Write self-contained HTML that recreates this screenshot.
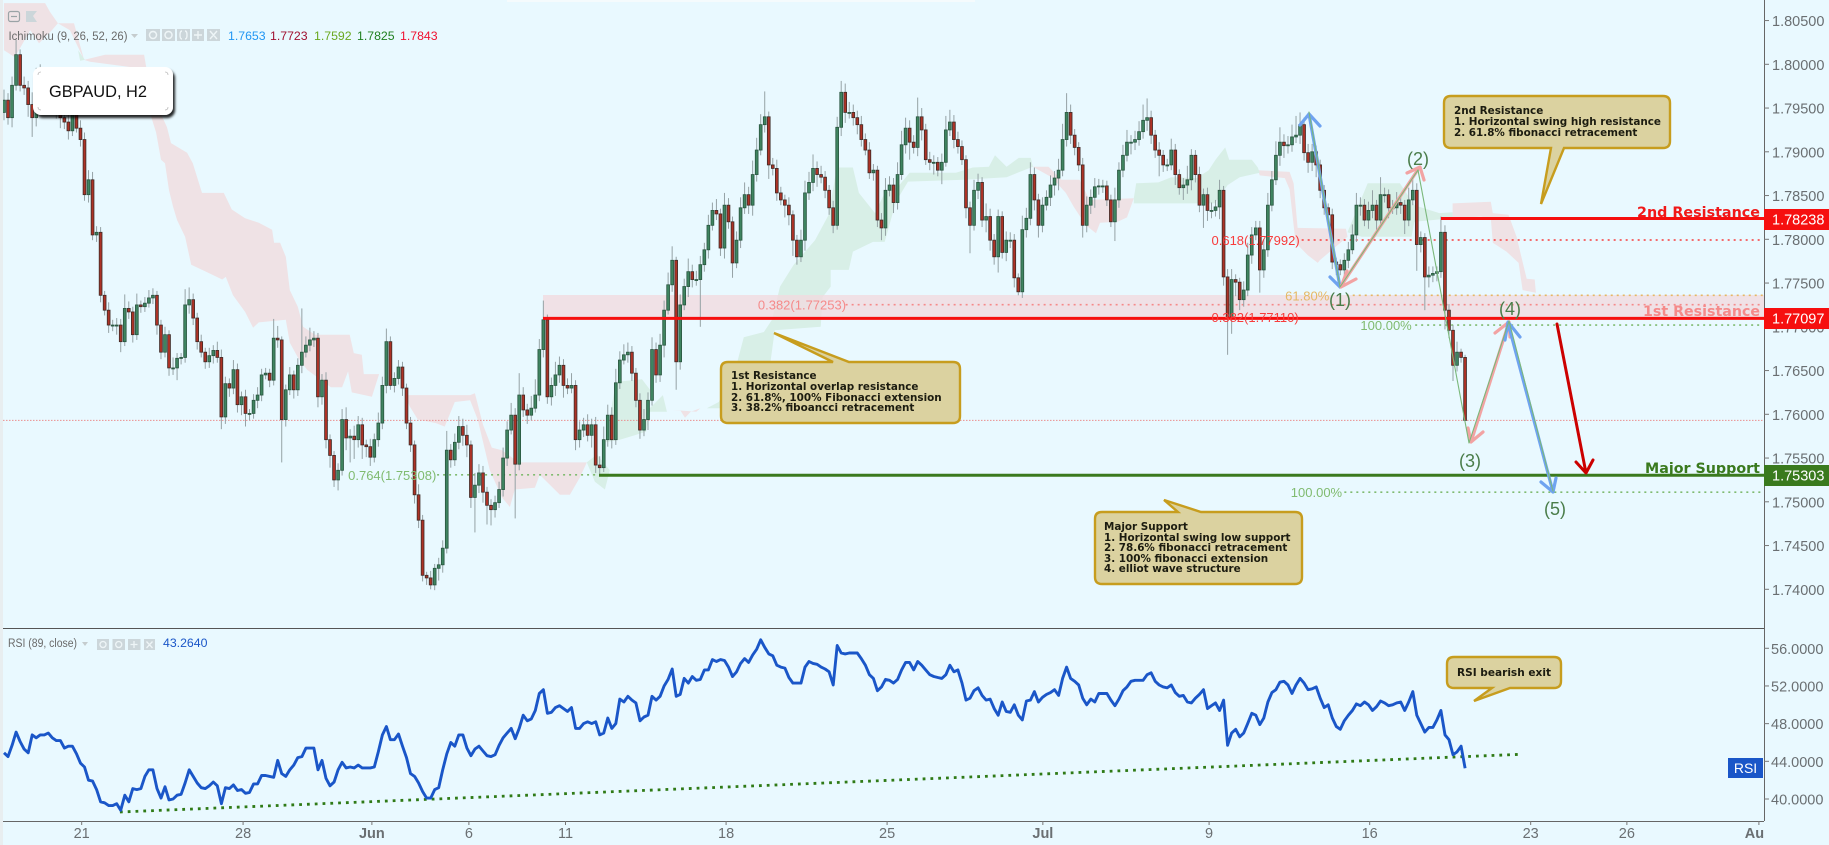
<!DOCTYPE html>
<html lang="en">
<head>
<meta charset="utf-8">
<title>GBPAUD H2 chart</title>
<style>
html,body{margin:0;padding:0;background:#e9f9ff;width:1829px;height:845px;overflow:hidden}
svg{display:block;font-family:"Liberation Sans",sans-serif}
.ax{font-size:14.5px;fill:#6a6f72}
.fib{font-size:13px}
.note{font-family:"DejaVu Sans",sans-serif;font-size:10.4px;font-weight:bold;fill:#1c1c10}
.wave{font-size:18px;fill:#4a7d4a;text-anchor:middle}
.zone{font-family:"DejaVu Sans",sans-serif;font-size:14px;font-weight:bold}
.btn{fill:#ccd6da}
</style>
</head>
<body>
<svg id="chart" xmlns="http://www.w3.org/2000/svg" width="1829" height="845" viewBox="0 0 1829 845">
<defs>
<clipPath id="plotClip"><rect x="3" y="0" width="1761" height="628"/></clipPath>
<clipPath id="rsiClip"><rect x="3" y="629" width="1761" height="192"/></clipPath>
<clipPath id="axisClip"><rect x="0" y="822" width="1764" height="23"/></clipPath>
<filter id="labelShadow" x="-10%" y="-20%" width="125%" height="150%"><feDropShadow dx="2" dy="3" stdDeviation="1.2" flood-color="#000" flood-opacity=".85"/></filter>
</defs>
<rect x="0" y="0" width="1829" height="845" fill="#e9f9ff"/>
<rect x="0" y="0" width="3" height="845" fill="#e8eef0"/>
<rect x="507" y="0" width="468" height="2" fill="#f5fbfd"/>
<g id="cloudLayer" clip-path="url(#plotClip)"></g>
<rect x="543" y="295" width="1221" height="24" fill="#f1dbe0" opacity=".8"/>
<g id="gridLayer" clip-path="url(#plotClip)"></g>
<g id="candleLayer" clip-path="url(#plotClip)"></g>

<g fill="none" stroke-linecap="round" stroke-linejoin="round">
<path d="M1309,114L1340,287M1300,125L1309,114L1320,126M1330,277L1340,287" stroke="#6fa3f0" stroke-width="3.2"/>
<path d="M1341,286L1419,168M1407,173L1420,167L1424,180M1356,279L1341,287L1347,271" stroke="#f2a3a3" stroke-width="3.2"/>
<path d="M1471,442L1509,322M1468,428L1471,442L1483,432M1495,333L1509,322L1510,337" stroke="#f2a3a3" stroke-width="3.2"/>
<path d="M1508,323L1553,492M1505,340L1508,322L1520,337M1541,482L1553,492L1556,478" stroke="#6fa3f0" stroke-width="3.2"/>
<path d="M1309,112L1340,287L1418,170L1469,443L1509,321L1553,491" stroke="#7ab87a" stroke-width="1.1"/>
<path d="M1557,324L1586,473M1576,462L1586,473L1593,460" stroke="#cc0000" stroke-width="3"/>
</g>

<g>
<text class="wave" x="1340" y="306">(1)</text>
<text class="wave" x="1418" y="165">(2)</text>
<text class="wave" x="1470" y="467">(3)</text>
<text class="wave" x="1510" y="315">(4)</text>
<text class="wave" x="1555" y="515">(5)</text>
</g>

<g>
<text class="zone" x="1637" y="217" fill="#f01818" textLength="123" lengthAdjust="spacingAndGlyphs">2nd Resistance</text>
<text class="zone" x="1643" y="316" fill="#f58a8a" textLength="117" lengthAdjust="spacingAndGlyphs">1st Resistance</text>
<text class="zone" x="1645" y="473" fill="#3a7a1e" textLength="115" lengthAdjust="spacingAndGlyphs">Major Support</text>
</g>

<g>
<path d="M728,362H833L774,333L849,362H953Q960,362 960,369V416Q960,423 953,423H728Q721,423 721,416V369Q721,362 728,362Z" fill="#dbd2a0" stroke="#c79d1e" stroke-width="2.4"/>
<text class="note" x="731" y="379">1st Resistance</text>
<text class="note" x="731" y="390">1. Horizontal overlap resistance</text>
<text class="note" x="731" y="401">2. 61.8%, 100% Fibonacci extension</text>
<text class="note" x="731" y="411">3. 38.2% fiboancci retracement</text>
</g>
<g>
<path d="M1451,96H1663Q1670,96 1670,103V141Q1670,148 1663,148H1564L1541,204L1551,148H1451Q1444,148 1444,141V103Q1444,96 1451,96Z" fill="#dbd2a0" stroke="#c79d1e" stroke-width="2.4"/>
<text class="note" x="1454" y="114">2nd Resistance</text>
<text class="note" x="1454" y="125">1. Horizontal swing high resistance</text>
<text class="note" x="1454" y="136">2. 61.8% fibonacci retracement</text>
</g>
<g>
<path d="M1102,512H1178L1164,500L1201,512H1295Q1302,512 1302,519V577Q1302,584 1295,584H1102Q1095,584 1095,577V519Q1095,512 1102,512Z" fill="#dbd2a0" stroke="#c79d1e" stroke-width="2.4"/>
<text class="note" x="1104" y="530">Major Support</text>
<text class="note" x="1104" y="541">1. Horizontal swing low support</text>
<text class="note" x="1104" y="551">2. 78.6% fibonacci retracement</text>
<text class="note" x="1104" y="562">3. 100% fibonacci extension</text>
<text class="note" x="1104" y="572">4. elliot wave structure</text>
</g>

<g id="rsiLayer" clip-path="url(#rsiClip)"></g>
<g>
<path d="M1454,657H1554Q1561,657 1561,664V681Q1561,688 1554,688H1510L1474,701L1492,688H1454Q1447,688 1447,681V664Q1447,657 1454,657Z" fill="#dbd2a0" stroke="#c79d1e" stroke-width="2.4"/>
<text class="note" x="1504" y="676" text-anchor="middle" textLength="94" lengthAdjust="spacingAndGlyphs">RSI bearish exit</text>
</g>

<line x1="3" y1="628.5" x2="1764" y2="628.5" stroke="#555" stroke-width="1"/>
<line x1="3" y1="821.5" x2="1764" y2="821.5" stroke="#666" stroke-width="1"/>
<line x1="1764.5" y1="0" x2="1764.5" y2="821" stroke="#666" stroke-width="1"/>
<g id="axisLayer"></g>

<g>
<rect x="1764" y="209" width="65" height="21" fill="#f60f0f"/>
<text x="1772" y="224.5" fill="#fff" font-size="14.5">1.78238</text>
</g>
<g>
<rect x="1764" y="308" width="65" height="21" fill="#f60f0f"/>
<text x="1772" y="323.5" fill="#fff" font-size="14.5">1.77097</text>
</g>
<g>
<rect x="1764" y="465" width="65" height="21" fill="#3a7a1e"/>
<text x="1772" y="480.5" fill="#fff" font-size="14.5">1.75303</text>
</g>
<g>
<rect x="1728" y="758" width="35" height="20" fill="#1a56c8"/>
<text x="1745.5" y="773" fill="#fff" font-size="14" text-anchor="middle">RSI</text>
</g>

<g>
<rect x="33" y="67" width="140" height="48" rx="8" fill="#fff" filter="url(#labelShadow)"/>
<path d="M38,75Q38,72 41,72M165,72Q168,72 168,75M168,107Q168,110 165,110M41,110Q38,110 38,107" fill="none" stroke="#bbb" stroke-width=".8"/>
<text x="49" y="97" font-size="17" fill="#111" textLength="98" lengthAdjust="spacingAndGlyphs">GBPAUD, H2</text>
</g>

<g>
<rect x="8.5" y="11.5" width="11" height="10" rx="2" fill="none" stroke="#9aa3a6" stroke-width="1.2"/>
<line x1="11" y1="16.5" x2="17" y2="16.5" stroke="#9aa3a6" stroke-width="1.2"/>
<path d="M26,11H37L33,16L37,22H26Z" fill="#ccd6da"/>
<text x="8.5" y="40" font-size="12.3" fill="#6a6a6a" textLength="119" lengthAdjust="spacingAndGlyphs">Ichimoku (9, 26, 52, 26)</text>
<path d="M131,34H138L134.5,38Z" fill="#c5ccce"/>
<rect class="btn" x="146" y="29" width="14" height="12"/>
<rect class="btn" x="162" y="29" width="13" height="12"/>
<rect class="btn" x="177" y="29" width="13" height="12"/>
<rect class="btn" x="192" y="29" width="12" height="12"/>
<rect class="btn" x="207" y="29" width="13" height="12"/>
<path d="M153,31.5a3.5,3.5 0 1 0 .01,0M168.5,31.5a3.5,3.5 0 1 0 .01,0M198,31V39M194,35H202M210,31L217,39M217,31L210,39M182,31Q180,31 180,35Q180,39 182,39M185,31Q187,31 187,35Q187,39 185,39" fill="none" stroke="#eef5f7" stroke-width="1.4"/>
<text x="228" y="40" font-size="12.3" fill="#2196f3">1.7653</text>
<text x="270" y="40" font-size="12.3" fill="#a01030">1.7723</text>
<text x="314" y="40" font-size="12.3" fill="#6aa820">1.7592</text>
<text x="357" y="40" font-size="12.3" fill="#208020">1.7825</text>
<text x="400" y="40" font-size="12.3" fill="#f01030">1.7843</text>
</g>

<g>
<text x="8" y="647" font-size="12.3" fill="#6a6a6a" textLength="69" lengthAdjust="spacingAndGlyphs">RSI (89, close)</text>
<path d="M82,642H88L85,646Z" fill="#c5ccce"/>
<rect class="btn" x="97" y="639" width="12" height="11"/>
<rect class="btn" x="112.5" y="639" width="12.5" height="11"/>
<rect class="btn" x="128" y="639" width="12.5" height="11"/>
<rect class="btn" x="144" y="639" width="11" height="11"/>
<path d="M103,641.5a3,3 0 1 0 .01,0M118.7,641.5a3,3 0 1 0 .01,0M134,641V648M130.5,644.5H137.5M146.5,641.5L152.5,648M152.5,641.5L146.5,648" fill="none" stroke="#eef5f7" stroke-width="1.3"/>
<text x="163" y="647" font-size="12.3" fill="#1a56c8">43.2640</text>
</g>
</svg>

<script>
// ---- candle data (one bar per 3 hours of trading) ----
const closes=[
1.7959,1.7939,1.7976,1.8011,1.7976,1.7973,1.7954,1.7939,1.7988,1.7976,
1.7971,1.7965,1.7954,1.7945,1.7939,1.7934,1.7924,1.7944,1.7927,1.7914,
1.7851,1.7868,1.7805,1.7808,1.7736,1.7719,1.7702,1.7702,1.7702,1.7683,
1.7721,1.7717,1.7691,1.7725,1.7723,1.7727,1.7733,1.7736,1.7702,1.7671,
1.7691,1.7653,1.7653,1.7664,1.7665,1.7725,1.7731,1.7710,1.7683,1.7671,
1.7660,1.7667,1.7673,1.7665,1.7597,1.7635,1.7630,1.7651,1.7611,1.7620,
1.7601,1.7601,1.7616,1.7622,1.7645,1.7647,1.7639,1.7687,1.7685,1.7594,
1.7628,1.7645,1.7628,1.7656,1.7671,1.7679,1.7685,1.7687,1.7620,1.7639,
1.7571,1.7553,1.7525,1.7536,1.7594,1.7573,1.7575,1.7571,1.7588,1.7565,
1.7563,1.7551,1.7571,1.7590,1.7633,1.7683,1.7633,1.7641,1.7654,1.7630,
1.7590,1.7565,1.7508,1.7479,1.7416,1.7413,1.7405,1.7424,1.7428,1.7447,
1.7559,1.7548,1.7568,1.7586,1.7576,1.7565,1.7505,1.7519,1.7533,1.7511,
1.7496,1.7491,1.7499,1.7514,1.7550,1.7582,1.7599,1.7543,1.7622,1.7605,
1.7599,1.7607,1.7622,1.7674,1.7708,1.7620,1.7633,1.7645,1.7656,1.7633,
1.7630,1.7633,1.7571,1.7582,1.7588,1.7576,1.7588,1.7542,1.7539,1.7571,
1.7599,1.7571,1.7636,1.7662,1.7668,1.7671,1.7647,1.7616,1.7582,1.7594,
1.7616,1.7674,1.7645,1.7679,1.7719,1.7748,1.7776,1.7660,1.7725,1.7746,
1.7763,1.7754,1.7754,1.7771,1.7788,1.7816,1.7833,1.7829,1.7790,1.7839,
1.7820,1.7773,1.7799,1.7836,1.7851,1.7839,1.7874,1.7902,1.7931,1.7940,
1.7885,1.7881,1.7853,1.7845,1.7839,1.7828,1.7799,1.7780,1.7799,1.7853,
1.7865,1.7881,1.7874,1.7871,1.7856,1.7836,1.7816,1.7928,1.7968,1.7945,
1.7945,1.7939,1.7931,1.7914,1.7902,1.7876,1.7879,1.7822,1.7813,1.7856,
1.7862,1.7842,1.7874,1.7908,1.7927,1.7911,1.7905,1.7940,1.7925,1.7891,
1.7888,1.7888,1.7879,1.7888,1.7925,1.7934,1.7914,1.7906,1.7891,1.7836,
1.7816,1.7856,1.7865,1.7822,1.7826,1.7799,1.7780,1.7826,1.7785,1.7799,
1.7799,1.7756,1.7740,1.7811,1.7824,1.7874,1.7845,1.7816,1.7839,1.7848,
1.7862,1.7870,1.7879,1.7914,1.7945,1.7919,1.7905,1.7885,1.7816,1.7839,
1.7848,1.7860,1.7861,1.7861,1.7845,1.7820,1.7845,1.7879,1.7896,1.7911,
1.7911,1.7914,1.7923,1.7936,1.7939,1.7919,1.7902,1.7896,1.7885,1.7885,
1.7902,1.7874,1.7859,1.7862,1.7868,1.7896,1.7874,1.7839,1.7851,1.7833,
1.7833,1.7837,1.7856,1.7757,1.7710,1.7754,1.7751,1.7731,1.7742,1.7782,
1.7805,1.7813,1.7765,1.7788,1.7839,1.7868,1.7896,1.7911,1.7907,1.7908,
1.7917,1.7919,1.7931,1.7899,1.7888,1.7900,1.7885,1.7856,1.7836,1.7828,
1.7774,1.7771,1.7765,1.7776,1.7788,1.7805,1.7839,1.7839,1.7822,1.7833,
1.7839,1.7822,1.7851,1.7851,1.7836,1.7836,1.7842,1.7839,1.7822,1.7845,
1.7856,1.7794,1.7802,1.7757,1.7759,1.7761,1.7763,1.7808,1.7719,1.7696,
1.7656,1.7671,1.7665,1.7593];
const firstOpen=1.7945;
const upperWickPips=[
12,8,10,17,6,10,8,14,8,12,
8,6,9,8,6,8,9,12,7,9,
8,11,9,7,6,5,9,6,8,7,
16,8,6,13,5,7,9,8,5,6,
9,5,12,6,5,18,14,7,6,8,
5,9,6,10,9,8,6,11,7,6,
8,5,7,9,7,6,5,22,14,4,
6,9,5,8,50,10,14,8,6,7,
9,6,5,8,12,14,8,12,10,8,
6,9,7,12,10,15,6,7,8,6,
5,7,5,12,6,4,8,5,8,9,
22,7,10,12,9,12,5,14,10,8,
6,7,8,9,12,10,14,8,25,9,
7,14,18,12,22,6,9,15,10,7,
8,14,6,10,8,12,7,9,10,15,
12,9,16,10,12,11,7,6,8,12,
9,14,8,13,11,14,16,4,12,9,
15,8,10,10,8,12,9,13,6,14,
8,6,10,12,14,9,16,14,12,29,
6,8,10,7,6,9,5,6,12,14,
12,16,8,10,7,6,8,12,13,10,
12,9,8,10,7,9,7,5,8,14,
10,8,14,16,12,9,8,22,10,7,
9,8,6,10,16,14,8,9,7,5,
7,12,10,6,15,9,7,8,6,10,
9,7,5,16,12,14,8,7,9,8,
11,8,13,18,22,9,7,6,8,10,
9,10,8,7,6,6,14,9,12,14,
8,10,12,18,22,8,6,9,6,7,
13,7,6,8,16,7,6,9,7,8,
9,8,12,5,9,12,6,5,10,14,
9,8,8,12,14,10,16,17,9,10,
14,22,14,8,10,9,7,6,6,5,
7,5,6,8,9,12,14,9,7,10,
17,6,20,8,6,9,12,9,6,14,
16,8,7,5,10,8,6,18,8,7,
6,12,4,3];
const lowerWickPips=[
9,8,11,6,7,8,14,22,10,7,
8,6,9,7,12,8,10,6,5,8,
7,9,6,8,8,6,9,7,11,12,
5,8,9,6,7,6,5,7,11,8,
6,9,8,14,7,6,10,8,9,6,
8,7,9,6,14,8,10,7,9,12,
15,8,6,9,7,5,8,6,9,49,
8,6,10,7,9,6,7,8,12,9,
10,14,8,12,6,14,28,22,9,16,
12,10,6,8,7,9,5,8,7,9,
7,8,10,9,7,8,5,6,14,9,
6,9,7,8,12,14,12,40,9,12,
22,18,9,6,8,9,5,62,7,8,
10,6,5,7,9,8,10,12,9,14,
7,6,12,9,8,7,14,9,7,5,
8,10,6,7,5,9,9,8,10,7,
12,6,9,8,14,5,8,32,9,6,
12,9,7,54,8,10,6,7,9,12,
8,17,6,9,7,10,12,8,6,9,
16,8,9,6,14,12,18,9,6,12,
8,10,14,7,9,8,9,5,10,12,
7,9,11,8,6,7,9,8,14,9,
7,12,8,6,10,20,7,10,12,6,
9,14,7,16,5,7,10,8,6,12,
32,6,10,8,14,12,9,18,7,10,
9,11,4,7,9,8,12,14,8,6,
10,12,14,7,8,10,9,7,14,8,
10,12,9,8,7,6,22,9,8,7,
14,9,7,8,12,10,9,24,8,7,
6,12,8,14,10,12,9,8,26,12,
9,7,14,10,42,18,16,12,8,7,
10,6,26,9,8,7,6,12,14,9,
8,7,10,9,12,10,14,9,8,7,
8,12,6,7,9,5,8,12,7,10,
9,14,6,9,12,7,8,10,16,7,
6,30,9,38,12,8,9,7,22,9,
18,7,6,0];
// ---- RSI values, same bars as the candles ----
const rsiValues=[
44.9,44.5,45.7,47.1,46.1,45.3,44.9,46.8,46.5,46.8,46.8,47.0,46.5,46.2,46.2,45.4,45.6,45.6,44.8,43.8,
43.4,42.0,41.9,41.0,39.7,39.6,39.3,39.3,39.5,38.8,40.4,39.7,41.1,41.0,41.1,42.4,43.1,43.1,41.1,40.1,
41.3,39.9,40.0,40.4,40.5,41.7,43.1,42.4,41.7,41.2,41.1,41.4,41.8,41.4,39.5,41.2,41.1,41.5,40.9,41.0,
40.6,40.7,41.6,41.6,42.5,42.5,42.4,42.3,44.1,42.7,42.4,43.1,43.6,44.4,44.5,45.4,45.4,45.4,43.1,44.1,
42.2,41.4,41.8,43.1,43.9,43.3,43.4,43.3,43.6,43.3,43.3,43.3,43.4,45.0,46.8,47.7,46.3,46.3,46.9,45.6,
44.4,42.7,42.4,41.7,40.8,40.1,40.1,41.0,41.2,43.1,44.8,46.0,45.6,46.8,46.8,45.4,44.6,45.3,45.6,45.1,
44.6,44.5,44.7,45.7,46.5,47.0,47.5,46.4,47.5,48.9,48.3,48.5,49.4,51.2,51.6,49.1,49.2,49.7,49.9,49.6,
49.3,49.7,47.5,47.5,48.0,48.2,48.0,48.2,46.8,47.0,48.6,47.5,48.0,50.6,50.3,50.9,50.5,50.2,48.3,48.7,
48.9,50.9,50.5,50.9,52.0,52.7,53.8,50.9,51.1,52.8,52.3,53.0,52.6,52.7,
53.7,53.7,54.8,54.6,54.8,54.7,54.0,53.0,53.5,54.4,54.9,54.5,55.3,55.9,56.9,56.1,55.4,55.2,54.2,54.0,
53.9,52.9,52.3,52.3,52.3,54.0,54.6,54.4,54.3,54.0,53.8,53.5,52.1,56.3,55.5,55.4,55.5,55.5,55.5,54.9,
54.2,53.2,52.8,51.5,51.9,52.7,52.6,52.3,52.7,53.7,54.5,54.5,53.7,54.6,54.2,53.7,53.2,53.0,52.9,52.8,
53.2,54.2,53.5,53.7,52.3,50.5,50.7,51.5,51.8,51.0,50.5,50.6,49.6,48.9,50.3,49.3,49.2,50.0,48.9,48.4,
50.4,50.5,51.4,50.3,50.8,51.1,51.3,51.6,51.0,52.8,54.0,52.8,52.5,52.1,50.7,50.0,50.6,50.3,51.2,51.2,
51.2,50.5,49.9,50.6,51.5,51.9,52.5,52.6,52.6,52.6,53.2,53.4,52.5,52.1,51.9,51.8,52.1,51.3,50.9,51.0,
50.3,50.2,50.7,51.1,51.6,49.6,49.9,50.2,49.4,50.5,45.7,47.0,47.4,46.6,47.0,48.0,49.1,48.9,47.9,48.6,
50.3,51.3,51.6,52.4,52.5,52.1,51.2,52.1,52.8,52.3,51.6,51.7,51.9,50.7,49.7,50.0,48.6,47.7,47.4,48.3,
48.9,49.4,50.1,49.9,50.3,50.0,49.4,49.8,50.4,50.2,49.9,50.0,50.2,50.3,49.4,50.3,51.4,48.9,48.0,47.1,
47.6,47.6,48.4,49.4,46.8,46.3,44.7,45.0,45.6,43.26];
const rsiTrendBars=[28.8,377.1];
const rsiTrendValues=[38.62,44.75];
// ---- axis ticks ----
const priceTicks=[1.805,1.80,1.795,1.79,1.785,1.78,1.775,1.77,1.765,1.76,1.755,1.75,1.745,1.74];
const rsiTicks=[56,52,48,44,40];
const timeTickBars=[19.3,59.4,91.4,115.5,139.5,179.4,219.4,258.1,299.4,339.3,379.3,403.2,436];
const timeTickLabels=['21','28','Jun','6','11','18','25','Jul','9','16','23','26','Aug'];
// ---- horizontal levels ----
const lastPrice=1.7593;
const firstResistancePrice=1.77097;
const secondResistancePrice=1.78238;
const majorSupportPrice=1.75303;
const fibPrices=[1.77992,1.77253,1.7736,1.7702,1.7511,1.75308,1.7711];
const fibStartBars=[322.4,209.1,333.6,350.6,333,107.6,322.4];
const fibEndBars=[437,437,437,437,437,148,437];
const fibLabels=['0.618(1.77992)','0.382(1.77253)','61.80%','100.00%','100.00%','0.764(1.75308)','0.382(1.77110)'];
const fibLabelBars=[300,187.3,318.3,337,319.7,85.5,300];
const fibColors=['#f83c3c','#f58a8a','#e5b865','#80bb70','#80bb70','#80bb70','#f83c3c'];
// ---- ichimoku cloud outlines: [bar, price] ----
const redCloudA=[[0,1.8070],[10.2,1.8070],[11.4,1.8060],[13.4,1.8047],[17.4,1.8047],[19.9,1.8005],[25.1,1.8011],[34.8,1.8011],[36.3,1.7971],[40.5,1.7928],[41.5,1.7910],[45.5,1.7899],[46.9,1.7887],[49.2,1.7853],[54.6,1.7853],[56.6,1.7834],[59.9,1.7824],[63.3,1.7819],[66.6,1.7811],[67.1,1.7796],[68.6,1.7796],[70,1.7780],[71,1.7742],[73,1.7723],[74.3,1.7700],[77.3,1.7691],[85.9,1.7691],[86.9,1.7670],[88.9,1.7668],[89.4,1.7646],[93.2,1.7646],[91.4,1.7620],[86.4,1.7625],[85.5,1.7649],[84,1.7631],[81.2,1.7631],[75.3,1.7651],[73,1.7665],[71,1.7682],[70,1.7708],[63.3,1.7705],[61.9,1.7699],[59.9,1.7717],[56.9,1.7736],[55.1,1.7757],[54.2,1.7754],[50.2,1.7763],[46.5,1.7771],[45,1.7803],[43,1.7822],[42,1.7837],[41,1.7856],[40,1.7887],[39,1.7891],[37.8,1.7922],[36.3,1.7944],[35.8,1.7994],[21.4,1.8003],[19.9,1.8005],[16.4,1.8039],[13.4,1.8047],[11.9,1.8039],[8.7,1.8024],[6.5,1.8039],[2.7,1.8008],[0,1.8016]];
const redCloudB=[[99.6,1.7622],[115.8,1.7622],[117,1.7624],[119,1.7588],[121.2,1.7562],[123.7,1.7559],[127.9,1.7545],[144.8,1.7545],[143.1,1.7528],[140.6,1.7508],[138.1,1.7508],[133.1,1.7531],[131.9,1.7516],[126.9,1.7514],[125.7,1.7494],[123.7,1.7505],[120.7,1.7536],[117.7,1.7594],[115.8,1.7616],[112,1.7614],[109.5,1.7586],[107.3,1.7590],[102.8,1.7594],[100.8,1.7609]];
const redCloudC=[[255.6,1.7883],[259.5,1.7883],[262.7,1.7868],[267.2,1.7868],[269.7,1.7845],[280.7,1.7847],[279,1.7825],[276.7,1.7820],[272.3,1.7819],[271.3,1.7807],[268.8,1.7816],[265.8,1.7837],[263.8,1.7853],[260.3,1.7871]];
const redCloudD=[[311.5,1.7879],[319.4,1.7877],[320.4,1.7864],[321.4,1.7813],[333.4,1.7812],[333.8,1.7803],[326.9,1.7776],[326.4,1.7773],[323.9,1.7782],[320.9,1.7796],[319.4,1.7857],[318.2,1.7870],[312,1.7873]];
const redCloudE=[[359.9,1.7841],[369.4,1.7843],[369.9,1.7830],[373.8,1.7828],[375.8,1.7803],[377.3,1.7774],[378.3,1.7755],[380.3,1.7754],[380.6,1.7739],[377.3,1.7742],[376.3,1.7773],[373.3,1.7786],[369.9,1.7796],[369.4,1.7824],[366.9,1.7826],[359.9,1.7824]];
const redCloudF=[[166,1.7605],[172,1.7603],[173,1.7607],[170.6,1.7603],[169.2,1.7596],[168.1,1.7604]];
const greenCloudA=[[18.4,1.8016],[20.1,1.8005],[18.9,1.8004]];
const greenCloudB=[[144.8,1.7545],[147.3,1.7554],[150.5,1.7536],[149.3,1.7514],[146.8,1.7523]];
const greenCloudC=[[152,1.7637],[158.5,1.7640],[160.5,1.7628],[160,1.7605],[163.7,1.7622],[164.7,1.7603],[160.5,1.7603],[159.5,1.7580],[153,1.7571],[149.5,1.7568]];
const greenCloudD=[[174.6,1.7607],[177.6,1.7614],[181.8,1.7653],[183.8,1.7688],[188.8,1.7694],[190.8,1.7708],[192.8,1.7746],[196.2,1.7771],[201.5,1.7799],[204.9,1.7828],[206.9,1.7882],[210.9,1.7882],[212.4,1.7853],[216.4,1.7830],[218.8,1.7853],[222.1,1.7860],[225,1.7876],[236.5,1.7876],[240.7,1.7882],[244.7,1.7883],[246.2,1.7896],[249.1,1.7883],[252.1,1.7893],[255.1,1.7893],[255.6,1.7883],[249.1,1.7871],[238.5,1.7868],[224.6,1.7866],[221.6,1.7843],[218.8,1.7797],[215.9,1.7797],[210.9,1.7786],[209.9,1.7765],[205.4,1.7765],[205.4,1.7746],[203.4,1.7734],[202.9,1.7700],[191.5,1.7696],[190.3,1.7656],[182.8,1.7660],[177.9,1.7607]];
const greenCloudE=[[280.7,1.7847],[281.3,1.7864],[286.8,1.7865],[290,1.7871],[296.3,1.7870],[299.3,1.7879],[301,1.7891],[303.4,1.7905],[304.4,1.7891],[310,1.7891],[311.5,1.7882],[312,1.7876],[307,1.7871],[304,1.7862],[300.8,1.7841],[296.3,1.7841],[280.7,1.7841]];
const greenCloudF=[[333.8,1.7808],[338.8,1.7864],[346.8,1.7864],[350.4,1.7839],[356.6,1.7830],[359.9,1.7831],[359.9,1.7824],[350.4,1.7820],[349.7,1.7803],[337.3,1.7803]];
const redClouds=[redCloudA,redCloudB,redCloudC,redCloudD,redCloudE,redCloudF];
const greenClouds=[greenCloudA,greenCloudB,greenCloudC,greenCloudD,greenCloudE,greenCloudF];

// ---- scales ----
function xScale(bar){return 4+bar*4.025;}
function yScale(price){return 414.3-(price-1.76)*8750;}
function rsiScale(value){return 799-(value-40)*9.42;}

const NS='http://www.w3.org/2000/svg';
function mk(tag,attrs,parent){
  const el=document.createElementNS(NS,tag);
  for(const k in attrs){el.setAttribute(k,attrs[k]);}
  parent.appendChild(el);
  return el;
}
const cloudLayer=document.getElementById('cloudLayer');
const gridLayer=document.getElementById('gridLayer');
const candleLayer=document.getElementById('candleLayer');
const rsiLayer=document.getElementById('rsiLayer');
const axisLayer=document.getElementById('axisLayer');

function pointsOf(list){
  return list.map(function(p){return xScale(p[0]).toFixed(1)+','+yScale(p[1]).toFixed(1);}).join(' ');
}
redClouds.forEach(function(list){
  const el=mk('polygon',{points:pointsOf(list),fill:'#efe2e5'},cloudLayer);
  
  
});
greenClouds.forEach(function(list){
  const el=mk('polygon',{points:pointsOf(list),fill:'#d8efe7'},cloudLayer);
  
  
});

// current price line
const lastLine=mk('line',{x1:3,x2:1764,y1:yScale(lastPrice),y2:yScale(lastPrice),stroke:'#ea8f8f','stroke-width':1,'stroke-dasharray':'1.5 1.5'},gridLayer);



// fibonacci levels
fibPrices.forEach(function(price,i){
  if(i!==6){
    const line=mk('line',{x1:xScale(fibStartBars[i]),x2:xScale(fibEndBars[i]),y1:yScale(price),y2:yScale(price),stroke:fibColors[i],'stroke-width':1.6,'stroke-dasharray':'2 4'},gridLayer);
    
    
  }
});

// candles
closes.forEach(function(close,i){
  const open=i===0?firstOpen:closes[i-1];
  const hi=Math.max(open,close)+upperWickPips[i]*0.0001;
  const lo=Math.min(open,close)-lowerWickPips[i]*0.0001;
  const x=xScale(i);
  const wick=mk('line',{x1:x,x2:x,y1:yScale(hi),y2:yScale(lo),stroke:'#95a2a5','stroke-width':1},candleLayer);
  
  
  const top=yScale(Math.max(open,close));
  const h=Math.max(Math.abs(yScale(open)-yScale(close)),1);
  const up=close>=open;
  const body=mk('rect',{x:x-1.4,y:top,width:2.8,height:h,fill:up?'#3f8460':'#ad3226',stroke:up?'#29553f':'#3e2b27','stroke-width':.8},candleLayer);
  
  
});

// resistance and support lines, drawn above the candles
function level(price,fromX,color,width){
  const y=yScale(price);
  const el=mk('line',{x1:fromX,x2:1764,y1:y,y2:y,stroke:color,'stroke-width':width},candleLayer);
  
  return el;
}
const r1=level(firstResistancePrice,543,'#f60f0f',3);

const r2=level(secondResistancePrice,1441,'#f60f0f',3);

const sup=level(majorSupportPrice,599,'#3a7a1e',3);


// fibonacci labels
fibLabels.forEach(function(label,i){
  const t=mk('text',{x:xScale(fibLabelBars[i]),y:yScale(fibPrices[i])+5,fill:fibColors[i],class:'fib'},candleLayer);
  t.textContent=label;
  
  
});

// RSI line and trend
const trend=mk('polyline',{points:rsiTrendBars.map(function(b,i){return xScale(b)+','+rsiScale(rsiTrendValues[i]);}).join(' '),fill:'none',stroke:'#2f7a16','stroke-width':2.8,'stroke-dasharray':'2.8 5'},rsiLayer);


const rsiLine=mk('polyline',{points:rsiValues.map(function(v,i){return xScale(i).toFixed(1)+','+rsiScale(v).toFixed(1);}).join(' '),fill:'none',stroke:'#1a56c8','stroke-width':2.9,'stroke-linejoin':'round'},rsiLayer);



// price axis
priceTicks.forEach(function(p){
  const y=yScale(p);
  const tick=mk('line',{x1:1764,x2:1769,y1:y,y2:y,stroke:'#777','stroke-width':1},axisLayer);
  
  
  const t=mk('text',{x:1772,y:y+5.5,class:'ax'},axisLayer);
  t.textContent=p.toFixed(5);
  
  
});
// RSI axis
rsiTicks.forEach(function(v){
  const y=rsiScale(v);
  const tick=mk('line',{x1:1764,x2:1769,y1:y,y2:y,stroke:'#777','stroke-width':1},axisLayer);
  
  
  const t=mk('text',{x:1771,y:y+5.5,class:'ax'},axisLayer);
  t.textContent=v.toFixed(4);
  
  
});
// time axis
timeTickBars.forEach(function(b,i){
  const x=xScale(b);
  const tick=mk('line',{x1:x,x2:x,y1:821,y2:825,stroke:'#777','stroke-width':1},axisLayer);
  
  
  const label=timeTickLabels[i];
  const bold=label==='Jun'||label==='Jul'||label==='Aug';
  const t=mk('text',{x:x,y:838,class:'ax','text-anchor':'middle','font-weight':bold?'bold':'normal','clip-path':'url(#axisClip)'},axisLayer);
  t.textContent=label;
  
  
});
</script>
</body>
</html>
